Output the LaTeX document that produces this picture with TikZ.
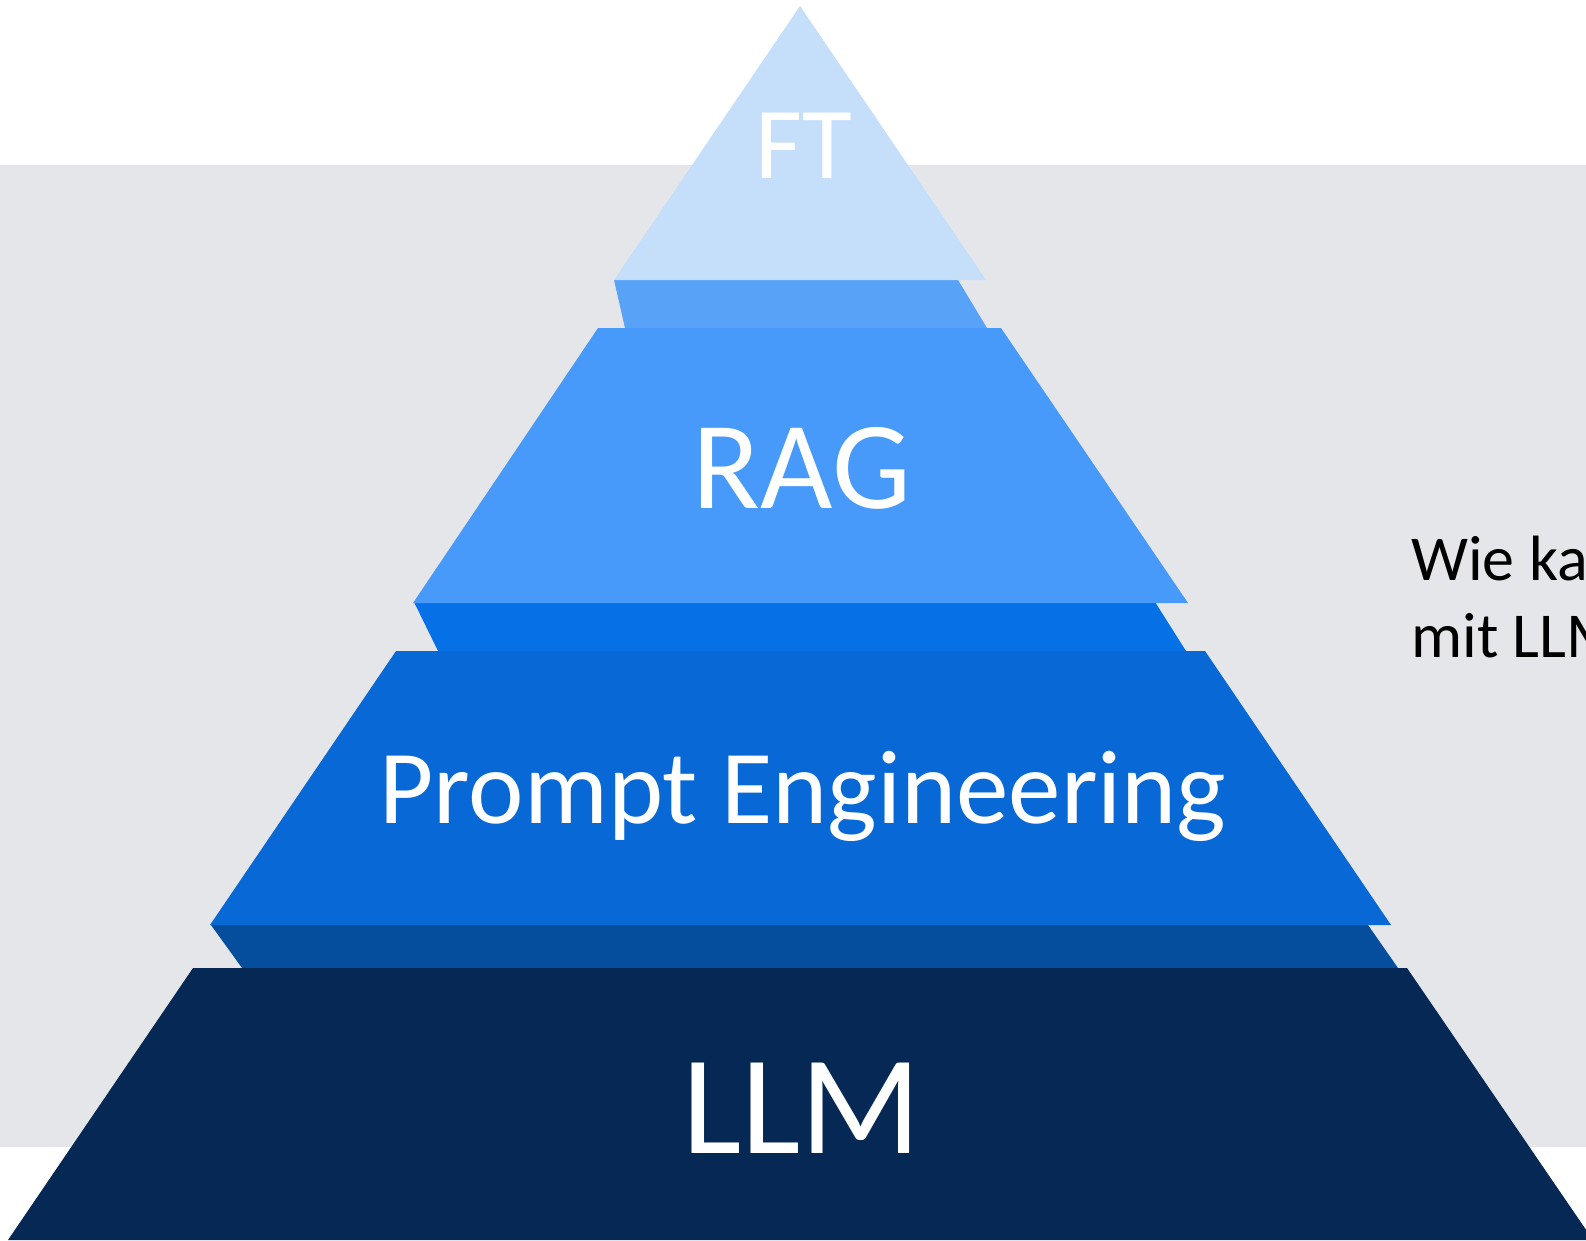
\documentclass[tikz,border=0pt]{standalone}
\usepackage{fontspec}
\setmainfont{Carlito}
\definecolor{bggray}{HTML}{E5E6EA}
\definecolor{cft}{HTML}{C5DFFB}
\definecolor{conA}{HTML}{58A3F8}
\definecolor{crag}{HTML}{4799FA}
\definecolor{conB}{HTML}{0670E6}
\definecolor{cpe}{HTML}{0868D6}
\definecolor{conC}{HTML}{054E9E}
\definecolor{cllm}{HTML}{052854}
\tikzset{
  lbl/.style={text=white, anchor=base, inner sep=0pt},
  sidetext/.style={text=black, anchor=base west, inner sep=0pt, font=\fontsize{64}{77}\selectfont}
}
\begin{document}
\begin{tikzpicture}[x=1pt,y=-1pt]
\useasboundingbox (0,0) rectangle (1586,1240);
\clip (0,0) rectangle (1586,1240);
\fill[white] (0,0) rectangle (1586,1240);
\fill[bggray] (0,165) rectangle (1586,1147);
% connectors
\fill[conA] (614,280) -- (958,280) -- (987,328) -- (625,328) -- cycle;
\fill[conB] (414,602) -- (1155,602) -- (1186,651) -- (438,651) -- cycle;
\fill[conC] (211,925) -- (1368,925) -- (1398,968) -- (242,968) -- cycle;
% tiers
\fill[cft] (614,280) -- (800,6) -- (986,280) -- cycle;
\fill[crag] (413,603) -- (598,328) -- (1001,328) -- (1188,603) -- cycle;
\fill[cpe] (210,925) -- (396,651) -- (1205,651) -- (1391,925) -- cycle;
\fill[cllm] (8,1240) -- (193,968) -- (1407,968) -- (1593,1240) -- cycle;
% labels
\node[lbl, font=\fontsize{102}{102}\selectfont] (ft) at (804,178) {FT};
\node[lbl, font=\fontsize{125}{125}\selectfont] (rag) at (802,508) {RAG};
\node[lbl, font=\fontsize{105}{105}\selectfont] (pe) at (803,823) {Prompt Engineering};
\node[lbl, font=\fontsize{141}{141}\selectfont] (llm) at (802,1153) {LLM};
\node[sidetext] (q1) at (1411,580) {Wie kann};
\node[sidetext] (q2) at (1411,657) {mit LLMs};
\end{tikzpicture}
\end{document}
